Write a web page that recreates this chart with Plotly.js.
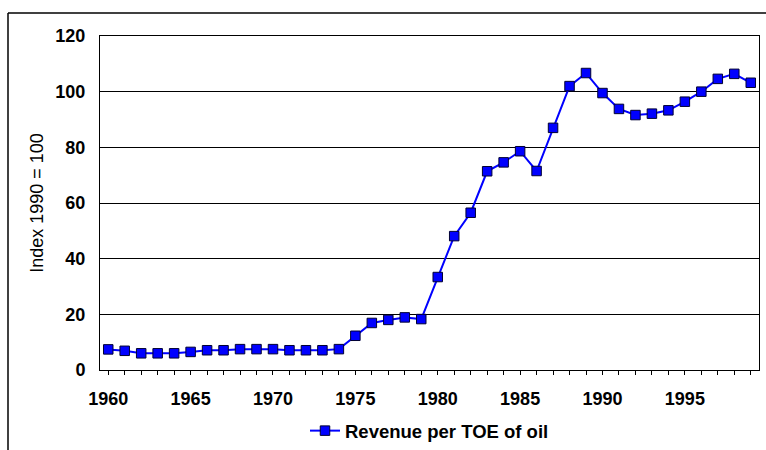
<!DOCTYPE html>
<html>
<head>
<meta charset="utf-8">
<script src="https://cdn.plot.ly/plotly-3.0.1.min.js"></script>
<style>
  html, body { margin: 0; padding: 0; background: #fff; }
  #chart { width: 766px; height: 450px; }
</style>
</head>
<body>
<div id="chart"></div>
<script>
const years = [1960,1961,1962,1963,1964,1965,1966,1967,1968,1969,
               1970,1971,1972,1973,1974,1975,1976,1977,1978,1979,
               1980,1981,1982,1983,1984,1985,1986,1987,1988,1989,
               1990,1991,1992,1993,1994,1995,1996,1997,1998,1999];
const revenuePerToe = [7.4,6.9,6.0,6.0,6.0,6.5,7.1,7.1,7.5,7.5,
                       7.5,7.1,7.1,7.1,7.5,12.3,16.9,18.0,18.9,18.3,
                       33.4,48.1,56.5,71.4,74.6,78.6,71.5,87.0,102.0,106.7,
                       99.5,93.8,91.6,92.1,93.3,96.4,100.0,104.6,106.4,103.2];
const yTickVals = [0,20,40,60,80,100,120];
const xTickVals = [1960,1965,1970,1975,1980,1985,1990,1995];

const FONT = 'Arial, "Liberation Sans", Helvetica, sans-serif';

const trace = {
  x: years,
  y: revenuePerToe,
  type: 'scatter',
  mode: 'lines+markers',
  name: 'Revenue per TOE of oil',
  line: { color: '#0000FF', width: 2 },
  marker: { symbol: 'square', size: 9.5, color: '#0000FF', line: { color: '#000033', width: 1 } }
};

const layout = {
  width: 766,
  height: 450,
  margin: { l: 100, r: 7, t: 36, b: 80 },
  paper_bgcolor: '#ffffff',
  plot_bgcolor: '#ffffff',
  font: { family: FONT, color: '#000000', size: 18 },
  showlegend: true,
  legend: {
    orientation: 'h',
    xref: 'paper', x: 0.5, xanchor: 'center',
    yref: 'container', y: 0.042, yanchor: 'middle',
    font: { family: FONT, size: 18.5, weight: 'bold', color: '#000' },
    bgcolor: 'rgba(0,0,0,0)'
  },
  xaxis: {
    type: 'linear',
    range: [1959.5, 1999.5],
    tickmode: 'array',
    tickvals: xTickVals,
    ticktext: xTickVals.map(String),
    ticks: 'outside',
    ticklen: 4,
    tickcolor: '#000',
    tickwidth: 1,
    minor: { dtick: 1, tick0: 1960, ticks: 'outside', ticklen: 4, tickcolor: '#000', tickwidth: 1, showgrid: false },
    tickfont: { family: FONT, size: 18, weight: 'bold', color: '#000' },
    ticklabelstandoff: 8,
    showgrid: false,
    zeroline: false,
    showline: true,
    linecolor: '#000',
    linewidth: 1,
    mirror: true,
    fixedrange: true
  },
  yaxis: {
    range: [0, 120],
    tickmode: 'array',
    tickvals: yTickVals,
    ticktext: yTickVals.map(String),
    ticks: '',
    tickfont: { family: FONT, size: 18, weight: 'bold', color: '#000' },
    ticklabelstandoff: 10,
    showgrid: true,
    gridcolor: '#000',
    gridwidth: 1,
    zeroline: false,
    showline: true,
    linecolor: '#000',
    linewidth: 1,
    mirror: true,
    title: { text: 'Index 1990 = 100', font: { family: FONT, size: 18, color: '#000' }, standoff: 7 },
    fixedrange: true
  },
  shapes: [
    { type: 'line', xref: 'paper', yref: 'paper', x0: -0.1396, x1: 1.1, y0: 1.0689, y1: 1.0689, line: { color: '#000', width: 1.5 } },
    { type: 'line', xref: 'paper', yref: 'paper', x0: -0.1396, x1: -0.1396, y0: 1.0689, y1: -0.26, line: { color: '#000', width: 1.5 } }
  ]
};

Plotly.newPlot('chart', [trace], layout, { staticPlot: true, displayModeBar: false });
</script>
</body>
</html>
